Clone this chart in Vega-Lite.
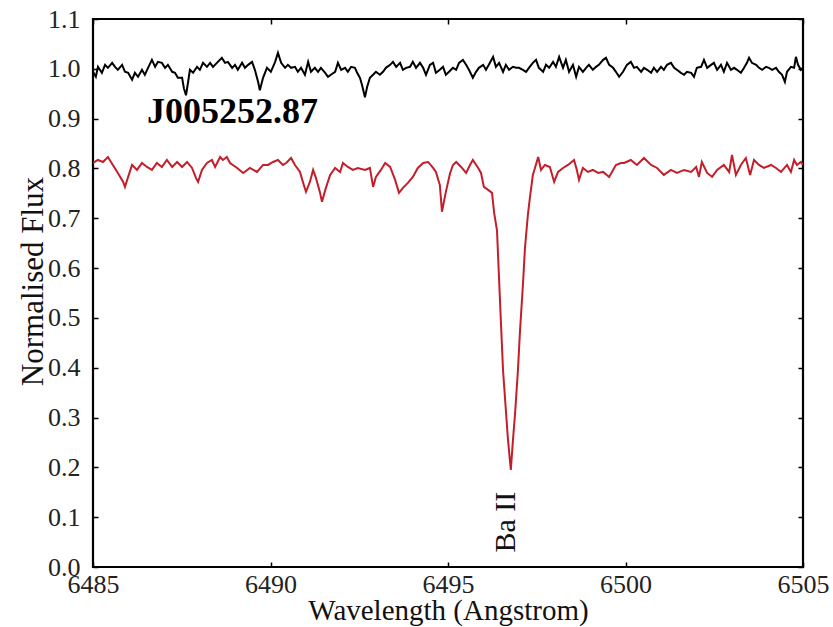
{
  "$schema": "https://vega.github.io/schema/vega-lite/v6.json",
  "width": 710,
  "height": 548,
  "autosize": "none",
  "padding": {"left": 93, "top": 19, "right": 30, "bottom": 60},
  "background": "white",
  "config": {
    "view": {"stroke": "#000000", "strokeWidth": 2.2},
    "font": "Liberation Serif",
    "axis": {"grid": false, "domain": false, "tickColor": "#000000", "tickWidth": 1.5, "tickSize": -5, "labelOverlap": false, "labelFlush": false, "labelFont": "Liberation Serif", "titleFont": "Liberation Serif", "labelColor": "#222222", "titleColor": "#111111"}
  },
  "datasets": {
    "spec": [
      {"s":"t","w":6485.00,"f":0.994},{"s":"t","w":6485.08,"f":0.984},{"s":"t","w":6485.14,"f":1.004},{"s":"t","w":6485.25,"f":0.992},{"s":"t","w":6485.34,"f":1.008},{"s":"t","w":6485.42,"f":1.002},{"s":"t","w":6485.54,"f":1.012},{"s":"t","w":6485.62,"f":1.004},{"s":"t","w":6485.70,"f":0.998},{"s":"t","w":6485.82,"f":1.008},{"s":"t","w":6485.90,"f":0.994},{"s":"t","w":6485.99,"f":0.992},{"s":"t","w":6486.10,"f":0.978},{"s":"t","w":6486.18,"f":0.992},{"s":"t","w":6486.27,"f":0.984},{"s":"t","w":6486.38,"f":0.998},{"s":"t","w":6486.46,"f":0.988},{"s":"t","w":6486.55,"f":1.002},{"s":"t","w":6486.66,"f":1.018},{"s":"t","w":6486.75,"f":1.004},{"s":"t","w":6486.83,"f":1.014},{"s":"t","w":6486.94,"f":1.012},{"s":"t","w":6487.03,"f":1.002},{"s":"t","w":6487.11,"f":1.008},{"s":"t","w":6487.23,"f":0.994},{"s":"t","w":6487.31,"f":0.992},{"s":"t","w":6487.39,"f":0.982},{"s":"t","w":6487.51,"f":0.982},{"s":"t","w":6487.56,"f":0.961},{"s":"t","w":6487.62,"f":0.947},{"s":"t","w":6487.68,"f":0.974},{"s":"t","w":6487.73,"f":0.998},{"s":"t","w":6487.82,"f":0.992},{"s":"t","w":6487.93,"f":1.004},{"s":"t","w":6488.01,"f":0.998},{"s":"t","w":6488.10,"f":1.012},{"s":"t","w":6488.21,"f":1.004},{"s":"t","w":6488.30,"f":1.012},{"s":"t","w":6488.38,"f":1.004},{"s":"t","w":6488.49,"f":1.012},{"s":"t","w":6488.63,"f":1.022},{"s":"t","w":6488.72,"f":1.012},{"s":"t","w":6488.80,"f":1.014},{"s":"t","w":6488.92,"f":1.002},{"s":"t","w":6489.00,"f":1.008},{"s":"t","w":6489.08,"f":0.998},{"s":"t","w":6489.20,"f":1.012},{"s":"t","w":6489.28,"f":1.002},{"s":"t","w":6489.37,"f":1.008},{"s":"t","w":6489.48,"f":1.014},{"s":"t","w":6489.56,"f":0.998},{"s":"t","w":6489.65,"f":0.974},{"s":"t","w":6489.70,"f":0.957},{"s":"t","w":6489.79,"f":0.982},{"s":"t","w":6489.90,"f":1.002},{"s":"t","w":6490.01,"f":0.994},{"s":"t","w":6490.13,"f":1.014},{"s":"t","w":6490.21,"f":1.032},{"s":"t","w":6490.30,"f":1.012},{"s":"t","w":6490.41,"f":1.002},{"s":"t","w":6490.49,"f":1.008},{"s":"t","w":6490.58,"f":1.002},{"s":"t","w":6490.69,"f":1.004},{"s":"t","w":6490.77,"f":0.994},{"s":"t","w":6490.86,"f":1.002},{"s":"t","w":6490.97,"f":0.988},{"s":"t","w":6491.06,"f":1.014},{"s":"t","w":6491.14,"f":0.994},{"s":"t","w":6491.25,"f":1.002},{"s":"t","w":6491.34,"f":0.994},{"s":"t","w":6491.42,"f":1.002},{"s":"t","w":6491.54,"f":0.992},{"s":"t","w":6491.62,"f":0.984},{"s":"t","w":6491.70,"f":0.988},{"s":"t","w":6491.82,"f":0.994},{"s":"t","w":6491.90,"f":1.012},{"s":"t","w":6491.99,"f":0.998},{"s":"t","w":6492.10,"f":1.002},{"s":"t","w":6492.18,"f":0.994},{"s":"t","w":6492.27,"f":1.004},{"s":"t","w":6492.38,"f":1.002},{"s":"t","w":6492.44,"f":0.992},{"s":"t","w":6492.52,"f":0.982},{"s":"t","w":6492.58,"f":0.967},{"s":"t","w":6492.66,"f":0.943},{"s":"t","w":6492.72,"f":0.963},{"s":"t","w":6492.80,"f":0.982},{"s":"t","w":6492.89,"f":0.988},{"s":"t","w":6492.97,"f":0.994},{"s":"t","w":6493.08,"f":0.988},{"s":"t","w":6493.17,"f":0.994},{"s":"t","w":6493.25,"f":1.002},{"s":"t","w":6493.37,"f":1.008},{"s":"t","w":6493.45,"f":1.014},{"s":"t","w":6493.54,"f":1.004},{"s":"t","w":6493.65,"f":1.012},{"s":"t","w":6493.73,"f":0.998},{"s":"t","w":6493.82,"f":1.002},{"s":"t","w":6493.93,"f":1.004},{"s":"t","w":6494.01,"f":1.014},{"s":"t","w":6494.10,"f":1.002},{"s":"t","w":6494.21,"f":1.012},{"s":"t","w":6494.30,"f":1.002},{"s":"t","w":6494.38,"f":0.988},{"s":"t","w":6494.49,"f":1.008},{"s":"t","w":6494.58,"f":1.012},{"s":"t","w":6494.66,"f":0.992},{"s":"t","w":6494.77,"f":0.998},{"s":"t","w":6494.86,"f":1.004},{"s":"t","w":6494.94,"f":0.988},{"s":"t","w":6495.03,"f":0.994},{"s":"t","w":6495.14,"f":1.002},{"s":"t","w":6495.23,"f":0.998},{"s":"t","w":6495.31,"f":1.012},{"s":"t","w":6495.42,"f":1.018},{"s":"t","w":6495.51,"f":1.008},{"s":"t","w":6495.59,"f":0.998},{"s":"t","w":6495.70,"f":0.982},{"s":"t","w":6495.79,"f":0.994},{"s":"t","w":6495.87,"f":1.002},{"s":"t","w":6495.99,"f":1.008},{"s":"t","w":6496.07,"f":0.998},{"s":"t","w":6496.15,"f":1.008},{"s":"t","w":6496.27,"f":1.024},{"s":"t","w":6496.35,"f":1.004},{"s":"t","w":6496.44,"f":1.012},{"s":"t","w":6496.55,"f":0.994},{"s":"t","w":6496.63,"f":1.008},{"s":"t","w":6496.72,"f":0.998},{"s":"t","w":6496.83,"f":1.004},{"s":"t","w":6496.92,"f":1.002},{"s":"t","w":6497.00,"f":1.002},{"s":"t","w":6497.11,"f":0.998},{"s":"t","w":6497.20,"f":0.994},{"s":"t","w":6497.28,"f":1.002},{"s":"t","w":6497.39,"f":1.012},{"s":"t","w":6497.48,"f":1.018},{"s":"t","w":6497.56,"f":1.002},{"s":"t","w":6497.68,"f":0.994},{"s":"t","w":6497.76,"f":1.008},{"s":"t","w":6497.85,"f":1.002},{"s":"t","w":6497.96,"f":1.014},{"s":"t","w":6498.04,"f":1.004},{"s":"t","w":6498.13,"f":1.024},{"s":"t","w":6498.24,"f":1.002},{"s":"t","w":6498.32,"f":1.018},{"s":"t","w":6498.41,"f":0.994},{"s":"t","w":6498.52,"f":1.008},{"s":"t","w":6498.61,"f":0.984},{"s":"t","w":6498.69,"f":1.004},{"s":"t","w":6498.80,"f":0.994},{"s":"t","w":6498.89,"f":1.002},{"s":"t","w":6498.97,"f":1.008},{"s":"t","w":6499.08,"f":0.998},{"s":"t","w":6499.17,"f":1.004},{"s":"t","w":6499.25,"f":1.008},{"s":"t","w":6499.37,"f":1.018},{"s":"t","w":6499.45,"f":1.022},{"s":"t","w":6499.54,"f":1.008},{"s":"t","w":6499.65,"f":1.002},{"s":"t","w":6499.73,"f":0.994},{"s":"t","w":6499.82,"f":0.984},{"s":"t","w":6499.93,"f":0.994},{"s":"t","w":6500.04,"f":1.008},{"s":"t","w":6500.15,"f":1.014},{"s":"t","w":6500.24,"f":1.002},{"s":"t","w":6500.32,"f":1.004},{"s":"t","w":6500.44,"f":0.994},{"s":"t","w":6500.52,"f":1.002},{"s":"t","w":6500.61,"f":0.998},{"s":"t","w":6500.72,"f":0.992},{"s":"t","w":6500.80,"f":1.002},{"s":"t","w":6500.89,"f":0.994},{"s":"t","w":6501.00,"f":1.004},{"s":"t","w":6501.08,"f":0.998},{"s":"t","w":6501.17,"f":1.008},{"s":"t","w":6501.28,"f":1.012},{"s":"t","w":6501.37,"f":1.002},{"s":"t","w":6501.45,"f":0.998},{"s":"t","w":6501.56,"f":0.992},{"s":"t","w":6501.65,"f":0.988},{"s":"t","w":6501.73,"f":0.994},{"s":"t","w":6501.85,"f":0.992},{"s":"t","w":6501.93,"f":0.984},{"s":"t","w":6502.01,"f":1.002},{"s":"t","w":6502.13,"f":1.004},{"s":"t","w":6502.21,"f":1.018},{"s":"t","w":6502.30,"f":1.002},{"s":"t","w":6502.41,"f":1.008},{"s":"t","w":6502.49,"f":1.012},{"s":"t","w":6502.58,"f":0.998},{"s":"t","w":6502.69,"f":1.008},{"s":"t","w":6502.77,"f":0.994},{"s":"t","w":6502.86,"f":1.012},{"s":"t","w":6502.97,"f":0.998},{"s":"t","w":6503.06,"f":1.002},{"s":"t","w":6503.14,"f":0.998},{"s":"t","w":6503.25,"f":0.992},{"s":"t","w":6503.34,"f":1.002},{"s":"t","w":6503.42,"f":1.012},{"s":"t","w":6503.48,"f":1.022},{"s":"t","w":6503.56,"f":1.012},{"s":"t","w":6503.68,"f":1.008},{"s":"t","w":6503.76,"f":1.002},{"s":"t","w":6503.85,"f":0.998},{"s":"t","w":6503.96,"f":1.004},{"s":"t","w":6504.04,"f":1.002},{"s":"t","w":6504.13,"f":0.998},{"s":"t","w":6504.24,"f":1.002},{"s":"t","w":6504.32,"f":0.994},{"s":"t","w":6504.41,"f":0.988},{"s":"t","w":6504.49,"f":0.974},{"s":"t","w":6504.55,"f":0.994},{"s":"t","w":6504.66,"f":1.004},{"s":"t","w":6504.75,"f":1.002},{"s":"t","w":6504.80,"f":1.024},{"s":"t","w":6504.86,"f":1.008},{"s":"t","w":6504.94,"f":0.998},{"s":"t","w":6505.00,"f":1.002},

      {"s":"c","w":6485.00,"f":0.811},{"s":"c","w":6485.14,"f":0.817},{"s":"c","w":6485.28,"f":0.813},{"s":"c","w":6485.42,"f":0.823},{"s":"c","w":6485.56,"f":0.807},{"s":"c","w":6485.70,"f":0.791},{"s":"c","w":6485.85,"f":0.773},{"s":"c","w":6485.90,"f":0.763},{"s":"c","w":6485.99,"f":0.783},{"s":"c","w":6486.10,"f":0.807},{"s":"c","w":6486.24,"f":0.797},{"s":"c","w":6486.38,"f":0.811},{"s":"c","w":6486.52,"f":0.803},{"s":"c","w":6486.66,"f":0.797},{"s":"c","w":6486.80,"f":0.811},{"s":"c","w":6486.94,"f":0.803},{"s":"c","w":6487.08,"f":0.817},{"s":"c","w":6487.23,"f":0.803},{"s":"c","w":6487.37,"f":0.813},{"s":"c","w":6487.51,"f":0.803},{"s":"c","w":6487.65,"f":0.813},{"s":"c","w":6487.79,"f":0.801},{"s":"c","w":6487.90,"f":0.781},{"s":"c","w":6487.96,"f":0.773},{"s":"c","w":6488.07,"f":0.797},{"s":"c","w":6488.21,"f":0.811},{"s":"c","w":6488.35,"f":0.817},{"s":"c","w":6488.44,"f":0.803},{"s":"c","w":6488.58,"f":0.823},{"s":"c","w":6488.66,"f":0.817},{"s":"c","w":6488.77,"f":0.823},{"s":"c","w":6488.86,"f":0.811},{"s":"c","w":6489.06,"f":0.801},{"s":"c","w":6489.23,"f":0.791},{"s":"c","w":6489.42,"f":0.801},{"s":"c","w":6489.62,"f":0.793},{"s":"c","w":6489.79,"f":0.807},{"s":"c","w":6489.93,"f":0.807},{"s":"c","w":6490.07,"f":0.813},{"s":"c","w":6490.21,"f":0.817},{"s":"c","w":6490.35,"f":0.807},{"s":"c","w":6490.44,"f":0.811},{"s":"c","w":6490.58,"f":0.821},{"s":"c","w":6490.69,"f":0.807},{"s":"c","w":6490.83,"f":0.793},{"s":"c","w":6490.92,"f":0.771},{"s":"c","w":6491.00,"f":0.753},{"s":"c","w":6491.11,"f":0.773},{"s":"c","w":6491.20,"f":0.797},{"s":"c","w":6491.28,"f":0.781},{"s":"c","w":6491.39,"f":0.753},{"s":"c","w":6491.45,"f":0.733},{"s":"c","w":6491.56,"f":0.761},{"s":"c","w":6491.68,"f":0.787},{"s":"c","w":6491.82,"f":0.801},{"s":"c","w":6491.96,"f":0.793},{"s":"c","w":6492.04,"f":0.811},{"s":"c","w":6492.18,"f":0.803},{"s":"c","w":6492.32,"f":0.797},{"s":"c","w":6492.46,"f":0.801},{"s":"c","w":6492.66,"f":0.797},{"s":"c","w":6492.80,"f":0.801},{"s":"c","w":6492.89,"f":0.763},{"s":"c","w":6492.97,"f":0.783},{"s":"c","w":6493.11,"f":0.797},{"s":"c","w":6493.23,"f":0.811},{"s":"c","w":6493.37,"f":0.803},{"s":"c","w":6493.51,"f":0.777},{"s":"c","w":6493.62,"f":0.751},{"s":"c","w":6493.73,"f":0.761},{"s":"c","w":6493.87,"f":0.771},{"s":"c","w":6494.01,"f":0.783},{"s":"c","w":6494.15,"f":0.801},{"s":"c","w":6494.30,"f":0.811},{"s":"c","w":6494.44,"f":0.813},{"s":"c","w":6494.58,"f":0.801},{"s":"c","w":6494.66,"f":0.793},{"s":"c","w":6494.77,"f":0.767},{"s":"c","w":6494.83,"f":0.713},{"s":"c","w":6494.94,"f":0.753},{"s":"c","w":6495.06,"f":0.791},{"s":"c","w":6495.14,"f":0.807},{"s":"c","w":6495.23,"f":0.813},{"s":"c","w":6495.37,"f":0.803},{"s":"c","w":6495.51,"f":0.791},{"s":"c","w":6495.62,"f":0.807},{"s":"c","w":6495.70,"f":0.817},{"s":"c","w":6495.85,"f":0.801},{"s":"c","w":6495.93,"f":0.791},{"s":"c","w":6496.01,"f":0.763},{"s":"c","w":6496.13,"f":0.757},{"s":"c","w":6496.24,"f":0.751},{"s":"c","w":6496.30,"f":0.711},{"s":"c","w":6496.38,"f":0.676},{"s":"c","w":6496.46,"f":0.542},{"s":"c","w":6496.55,"f":0.395},{"s":"c","w":6496.63,"f":0.315},{"s":"c","w":6496.69,"f":0.255},{"s":"c","w":6496.77,"f":0.195},{"s":"c","w":6496.83,"f":0.255},{"s":"c","w":6496.89,"f":0.309},{"s":"c","w":6496.97,"f":0.395},{"s":"c","w":6497.03,"f":0.476},{"s":"c","w":6497.11,"f":0.566},{"s":"c","w":6497.17,"f":0.642},{"s":"c","w":6497.25,"f":0.707},{"s":"c","w":6497.31,"f":0.743},{"s":"c","w":6497.39,"f":0.787},{"s":"c","w":6497.45,"f":0.801},{"s":"c","w":6497.54,"f":0.823},{"s":"c","w":6497.62,"f":0.797},{"s":"c","w":6497.73,"f":0.807},{"s":"c","w":6497.87,"f":0.803},{"s":"c","w":6497.99,"f":0.773},{"s":"c","w":6498.10,"f":0.793},{"s":"c","w":6498.24,"f":0.801},{"s":"c","w":6498.38,"f":0.807},{"s":"c","w":6498.55,"f":0.817},{"s":"c","w":6498.63,"f":0.797},{"s":"c","w":6498.69,"f":0.777},{"s":"c","w":6498.80,"f":0.801},{"s":"c","w":6498.94,"f":0.793},{"s":"c","w":6499.08,"f":0.797},{"s":"c","w":6499.23,"f":0.791},{"s":"c","w":6499.37,"f":0.793},{"s":"c","w":6499.54,"f":0.783},{"s":"c","w":6499.65,"f":0.797},{"s":"c","w":6499.73,"f":0.807},{"s":"c","w":6499.87,"f":0.811},{"s":"c","w":6499.96,"f":0.811},{"s":"c","w":6500.15,"f":0.817},{"s":"c","w":6500.32,"f":0.807},{"s":"c","w":6500.52,"f":0.821},{"s":"c","w":6500.72,"f":0.807},{"s":"c","w":6500.89,"f":0.801},{"s":"c","w":6501.08,"f":0.787},{"s":"c","w":6501.28,"f":0.797},{"s":"c","w":6501.45,"f":0.791},{"s":"c","w":6501.65,"f":0.797},{"s":"c","w":6501.85,"f":0.793},{"s":"c","w":6501.99,"f":0.803},{"s":"c","w":6502.07,"f":0.783},{"s":"c","w":6502.15,"f":0.813},{"s":"c","w":6502.30,"f":0.791},{"s":"c","w":6502.44,"f":0.783},{"s":"c","w":6502.58,"f":0.797},{"s":"c","w":6502.77,"f":0.807},{"s":"c","w":6502.92,"f":0.793},{"s":"c","w":6503.00,"f":0.827},{"s":"c","w":6503.11,"f":0.787},{"s":"c","w":6503.25,"f":0.807},{"s":"c","w":6503.39,"f":0.821},{"s":"c","w":6503.51,"f":0.787},{"s":"c","w":6503.62,"f":0.817},{"s":"c","w":6503.76,"f":0.807},{"s":"c","w":6503.90,"f":0.801},{"s":"c","w":6504.10,"f":0.807},{"s":"c","w":6504.24,"f":0.801},{"s":"c","w":6504.38,"f":0.793},{"s":"c","w":6504.55,"f":0.807},{"s":"c","w":6504.66,"f":0.793},{"s":"c","w":6504.75,"f":0.817},{"s":"c","w":6504.83,"f":0.807},{"s":"c","w":6504.94,"f":0.813},{"s":"c","w":6505.00,"f":0.807}
    ],
    "labels": [
      {"text": "J005252.87", "w": 6486.52, "f": 0.891, "kind": "name"},
      {"text": "Ba II", "w": 6496.63, "f": 0.09, "kind": "line"}
    ]
  },
  "layer": [
    {
      "data": {"name": "spec"},
      "mark": {"type": "line", "strokeWidth": 2, "clip": true},
      "encoding": {
        "x": {"field": "w", "type": "quantitative", "scale": {"domain": [6485, 6505], "nice": false, "zero": false},
          "axis": {"orient": "bottom", "values": [6485, 6490, 6495, 6500, 6505], "format": "d", "labelFontSize": 26, "labelPadding": 9, "title": "Wavelength (Angstrom)", "titleFontSize": 29, "titleFontWeight": "normal", "titlePadding": -1}},
        "y": {"field": "f", "type": "quantitative", "scale": {"domain": [0, 1.1], "nice": false, "zero": false},
          "axis": {"orient": "left", "values": [0, 0.1, 0.2, 0.3, 0.4, 0.5, 0.6, 0.7, 0.8, 0.9, 1.0, 1.1], "format": ".1f", "labelFontSize": 26, "labelPadding": 18, "title": "Normalised Flux", "titleFontSize": 31, "titleFontWeight": "normal", "titlePadding": -2, "titleY": 262}},
        "color": {"field": "s", "type": "nominal", "scale": {"domain": ["t", "c"], "range": ["#000000", "#c41e2a"]}, "legend": null}
      }
    },
    {
      "data": {"name": "spec"},
      "mark": {"type": "line", "opacity": 0},
      "encoding": {
        "x": {"field": "w", "type": "quantitative", "axis": {"orient": "top", "values": [6485, 6490, 6495, 6500, 6505], "labels": false, "title": null}},
        "y": {"field": "f", "type": "quantitative", "axis": {"orient": "right", "values": [0, 0.1, 0.2, 0.3, 0.4, 0.5, 0.6, 0.7, 0.8, 0.9, 1.0, 1.1], "labels": false, "title": null}}
      }
    },
    {
      "data": {"name": "labels"},
      "transform": [{"filter": "datum.kind === 'name'"}],
      "mark": {"type": "text", "align": "left", "baseline": "alphabetic", "font": "Liberation Serif", "fontWeight": "bold", "fontSize": 36, "color": "#000000"},
      "encoding": {
        "x": {"field": "w", "type": "quantitative", "axis": null},
        "y": {"field": "f", "type": "quantitative", "axis": null},
        "text": {"field": "text"}
      }
    },
    {
      "data": {"name": "labels"},
      "transform": [{"filter": "datum.kind === 'line'"}],
      "mark": {"type": "text", "align": "center", "baseline": "middle", "angle": 270, "font": "Liberation Serif", "fontSize": 30, "color": "#111111"},
      "encoding": {
        "x": {"field": "w", "type": "quantitative", "axis": null},
        "y": {"field": "f", "type": "quantitative", "axis": null},
        "text": {"field": "text"}
      }
    }
  ],
  "resolve": {"axis": {"x": "independent", "y": "independent"}}
}
